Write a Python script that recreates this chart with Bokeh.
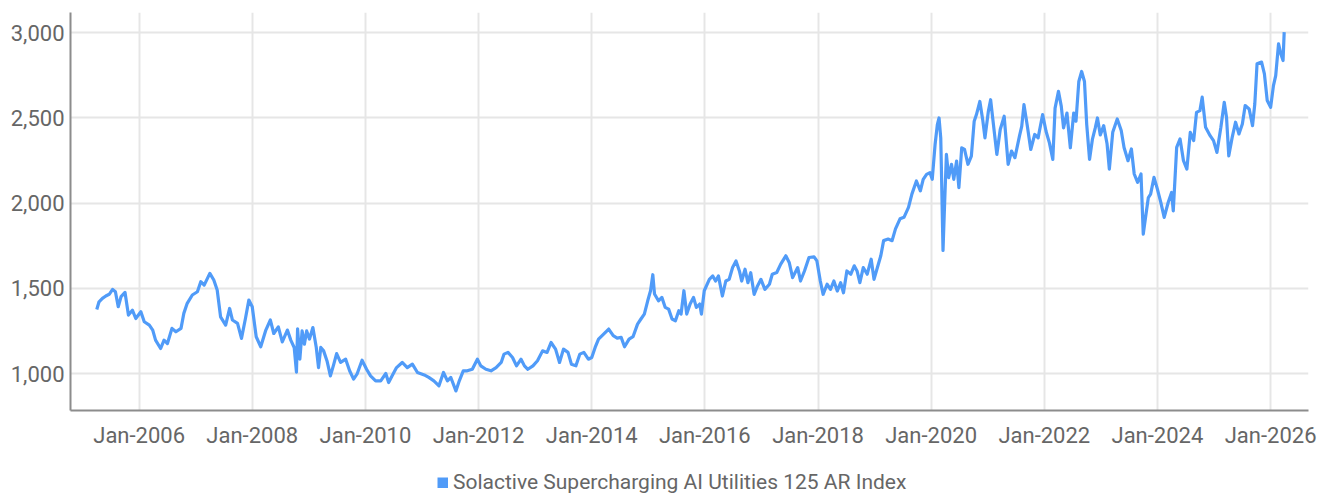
from datetime import datetime
from bokeh.plotting import figure
from bokeh.layouts import column
from bokeh.models import (FixedTicker, DatetimeTickFormatter, NumeralTickFormatter,
                          Legend, LegendItem, Range1d, ColumnDataSource)
from bokeh.embed import file_html
from bokeh.resources import INLINE

series_name = "Solactive Supercharging AI Utilities 125 AR Index"

# decimal-year dates and index levels
dates = [
    2005.25, 2005.29, 2005.35, 2005.41, 2005.47, 2005.53, 2005.58, 2005.63, 2005.68, 2005.75,
    2005.81, 2005.88, 2005.94, 2006.03, 2006.09, 2006.18, 2006.24, 2006.29, 2006.38, 2006.44,
    2006.50, 2006.58, 2006.65, 2006.74, 2006.79, 2006.85, 2006.94, 2007.03, 2007.09, 2007.15,
    2007.25, 2007.32, 2007.38, 2007.44, 2007.53, 2007.60, 2007.65, 2007.74, 2007.81, 2007.88,
    2007.94, 2008.00, 2008.07, 2008.15, 2008.24, 2008.32, 2008.38, 2008.46, 2008.53, 2008.62,
    2008.68, 2008.74, 2008.78, 2008.80, 2008.84, 2008.88, 2008.92, 2008.96, 2009.01, 2009.07,
    2009.13, 2009.17, 2009.21, 2009.26, 2009.32, 2009.38, 2009.44, 2009.49, 2009.56, 2009.65,
    2009.72, 2009.79, 2009.85, 2009.94, 2010.02, 2010.09, 2010.18, 2010.27, 2010.36, 2010.41,
    2010.47, 2010.55, 2010.65, 2010.74, 2010.83, 2010.92, 2011.04, 2011.12, 2011.21, 2011.30,
    2011.38, 2011.45, 2011.51, 2011.60, 2011.66, 2011.73, 2011.80, 2011.89, 2011.98, 2012.04,
    2012.13, 2012.22, 2012.31, 2012.40, 2012.45, 2012.52, 2012.60, 2012.67, 2012.75, 2012.81,
    2012.87, 2012.96, 2013.04, 2013.13, 2013.21, 2013.28, 2013.36, 2013.43, 2013.50, 2013.58,
    2013.64, 2013.72, 2013.79, 2013.86, 2013.94, 2014.00, 2014.06, 2014.12, 2014.21, 2014.30,
    2014.38, 2014.45, 2014.52, 2014.58, 2014.66, 2014.73, 2014.81, 2014.87, 2014.93, 2014.99,
    2015.04, 2015.08, 2015.11, 2015.18, 2015.24, 2015.30, 2015.36, 2015.42, 2015.48, 2015.54,
    2015.58, 2015.63, 2015.68, 2015.74, 2015.80, 2015.85, 2015.91, 2015.94, 2015.99, 2016.08,
    2016.14, 2016.19, 2016.24, 2016.31, 2016.37, 2016.43, 2016.49, 2016.55, 2016.61, 2016.65,
    2016.71, 2016.76, 2016.81, 2016.87, 2016.93, 2016.99, 2017.06, 2017.14, 2017.19, 2017.27,
    2017.34, 2017.43, 2017.49, 2017.55, 2017.64, 2017.69, 2017.76, 2017.84, 2017.93, 2017.98,
    2018.04, 2018.09, 2018.16, 2018.22, 2018.28, 2018.34, 2018.40, 2018.45, 2018.51, 2018.58,
    2018.64, 2018.69, 2018.74, 2018.80, 2018.87, 2018.94, 2018.99, 2019.05, 2019.11, 2019.16,
    2019.24, 2019.31, 2019.37, 2019.45, 2019.52, 2019.60, 2019.66, 2019.74, 2019.81, 2019.86,
    2019.92, 2019.98, 2020.02, 2020.07, 2020.11, 2020.14, 2020.17, 2020.18, 2020.21, 2020.24,
    2020.27, 2020.31, 2020.36, 2020.40, 2020.45, 2020.49, 2020.54, 2020.59, 2020.65, 2020.71,
    2020.76, 2020.80, 2020.86, 2020.91, 2020.95, 2021.01, 2021.05, 2021.10, 2021.16, 2021.22,
    2021.29, 2021.36, 2021.42, 2021.48, 2021.56, 2021.60, 2021.64, 2021.70, 2021.76, 2021.83,
    2021.89, 2021.97, 2022.03, 2022.09, 2022.15, 2022.19, 2022.25, 2022.30, 2022.34, 2022.40,
    2022.46, 2022.52, 2022.56, 2022.61, 2022.66, 2022.71, 2022.75, 2022.80, 2022.85, 2022.90,
    2022.94, 2022.99, 2023.05, 2023.11, 2023.15, 2023.21, 2023.29, 2023.36, 2023.41, 2023.48,
    2023.54, 2023.59, 2023.65, 2023.71, 2023.75, 2023.79, 2023.84, 2023.88, 2023.94, 2024.00,
    2024.06, 2024.12, 2024.19, 2024.25, 2024.28, 2024.34, 2024.40, 2024.46, 2024.52, 2024.58,
    2024.64, 2024.69, 2024.75, 2024.79, 2024.85, 2024.93, 2024.99, 2025.05, 2025.12, 2025.18,
    2025.22, 2025.26, 2025.32, 2025.38, 2025.44, 2025.50, 2025.55, 2025.62, 2025.68, 2025.72,
    2025.76, 2025.84, 2025.89, 2025.94, 2026.00, 2026.05, 2026.09, 2026.14, 2026.18, 2026.22,
    2026.24,
]
values = [
    1376, 1421, 1441, 1455, 1465, 1494, 1480, 1392, 1451, 1476,
    1343, 1372, 1323, 1363, 1304, 1284, 1255, 1196, 1147, 1196,
    1176, 1265, 1245, 1265, 1353, 1412, 1461, 1480, 1539, 1519,
    1588, 1549, 1490, 1333, 1284, 1382, 1314, 1294, 1206, 1323,
    1431, 1392, 1216, 1157, 1255, 1314, 1235, 1274, 1186, 1255,
    1196, 1153, 1008, 1262, 1084, 1250, 1172, 1250, 1202, 1270,
    1153, 1035, 1153, 1133, 1074, 986, 1055, 1117, 1065, 1084,
    1016, 967, 996, 1078, 1025, 986, 957, 957, 1000, 947,
    986, 1035, 1065, 1035, 1055, 1006, 992, 977, 957, 928,
    1006, 957, 977, 898, 957, 1016, 1016, 1025, 1084, 1045,
    1025, 1016, 1035, 1065, 1114, 1124, 1094, 1045, 1084, 1045,
    1025, 1045, 1075, 1133, 1124, 1182, 1143, 1065, 1143, 1124,
    1055, 1045, 1114, 1124, 1084, 1094, 1153, 1202, 1231, 1261,
    1222, 1208, 1212, 1157, 1202, 1216, 1290, 1320, 1349, 1427,
    1486, 1580, 1467, 1427, 1447, 1388, 1378, 1320, 1310, 1369,
    1349, 1486, 1349, 1408, 1447, 1388, 1408, 1349, 1486, 1553,
    1573, 1543, 1573, 1455, 1543, 1553, 1622, 1661, 1602, 1543,
    1612, 1533, 1592, 1465, 1514, 1553, 1494, 1524, 1583, 1593,
    1642, 1691, 1652, 1563, 1622, 1543, 1602, 1681, 1685, 1661,
    1543, 1465, 1524, 1494, 1543, 1484, 1533, 1474, 1602, 1583,
    1632, 1602, 1533, 1622, 1583, 1671, 1553, 1622, 1691, 1780,
    1789, 1780, 1849, 1908, 1917, 1975, 2053, 2130, 2072, 2140,
    2169, 2179, 2140, 2344, 2461, 2500, 2383, 2228, 1722, 2014,
    2286, 2150, 2228, 2140, 2247, 2091, 2325, 2315, 2228, 2276,
    2481, 2520, 2597, 2490, 2383, 2539, 2607, 2461, 2286, 2432,
    2510, 2228, 2306, 2267, 2393, 2451, 2578, 2451, 2315, 2403,
    2383, 2520, 2422, 2354, 2257, 2558, 2656, 2568, 2442, 2529,
    2325, 2529, 2481, 2714, 2773, 2714, 2461, 2257, 2374, 2440,
    2500, 2400, 2455, 2347, 2200, 2416, 2494, 2426, 2327, 2249,
    2318, 2171, 2122, 2171, 1818, 1916, 2033, 2053, 2151, 2082,
    2004, 1916, 2004, 2063, 1955, 2327, 2377, 2249, 2200, 2416,
    2367, 2533, 2543, 2622, 2445, 2396, 2367, 2298, 2445, 2592,
    2504, 2278, 2386, 2475, 2406, 2465, 2573, 2553, 2455, 2582,
    2818, 2828, 2759, 2602, 2563, 2690, 2749, 2935, 2877, 2837,
    3004,
]

tick_years = [2006, 2008, 2010, 2012, 2014, 2016, 2018, 2020, 2022, 2024, 2026]
y_ticks = [1000, 1500, 2000, 2500, 3000]


def to_dt(y):
    yr = int(y)
    start = datetime(yr, 1, 1)
    end = datetime(yr + 1, 1, 1)
    return start + (end - start) * (y - yr)


def to_ms(d):
    return (d - datetime(1970, 1, 1)).total_seconds() * 1000.0


line_color = "#509bf8"
text_font = "Roboto"
text_color = "#666666"

src = ColumnDataSource(dict(x=[to_dt(d) for d in dates], y=values))

p = figure(width=1326, height=452, x_axis_type="datetime",
           output_backend="svg", toolbar_location=None,
           x_range=Range1d(to_dt(2004.786), to_dt(2026.67)),
           y_range=Range1d(783, 3119),
           min_border_left=70, min_border_right=18, min_border_top=12,
           min_border_bottom=42)
p.outline_line_color = None
p.background_fill_color = "white"

p.line("x", "y", source=src, line_color=line_color, line_width=3.2,
       line_join="round")

p.xaxis.ticker = FixedTicker(ticks=[to_ms(datetime(y, 1, 1)) for y in tick_years])
fmt = "%b-%Y"
p.xaxis.formatter = DatetimeTickFormatter(
    milliseconds=fmt, seconds=fmt, minsec=fmt, minutes=fmt, hourmin=fmt,
    hours=fmt, days=fmt, months=fmt, years=fmt)
p.yaxis.ticker = FixedTicker(ticks=y_ticks)
p.yaxis.formatter = NumeralTickFormatter(format="0,0")

for ax in (p.xaxis, p.yaxis):
    ax.axis_line_color = "#8c8c8c"
    ax.axis_line_width = 2
    ax.major_tick_line_color = None
    ax.minor_tick_line_color = None
    ax.major_tick_out = 0
    ax.major_tick_in = 0
    ax.minor_tick_out = 0
    ax.major_label_text_font = text_font
    ax.major_label_text_font_size = "22px"
    ax.major_label_text_color = text_color
p.xaxis.major_label_standoff = 12
p.yaxis.major_label_standoff = 6

p.xgrid.grid_line_color = "#e6e6e6"
p.xgrid.grid_line_width = 2
p.ygrid.grid_line_color = "#e6e6e6"
p.ygrid.grid_line_width = 2

# legend strip below the chart; its swatch renderer uses the series itself,
# which lies outside this strip's ranges so only the legend key shows
lg = figure(width=1326, height=43, output_backend="svg", toolbar_location=None,
            x_range=Range1d(0, 1), y_range=Range1d(0, 1),
            min_border_left=0, min_border_right=0, min_border_top=0,
            min_border_bottom=0)
lg.axis.visible = False
lg.grid.visible = False
lg.outline_line_color = None
swatch = lg.line("x", "y", source=src, line_color=line_color, line_width=11,
                 line_cap="butt")
legend = Legend(items=[LegendItem(label=series_name, renderers=[swatch])],
                location=(367, 1), orientation="horizontal",
                border_line_color=None, background_fill_alpha=0,
                padding=0, margin=0, spacing=0,
                glyph_width=11, glyph_height=11, label_standoff=5,
                label_text_font=text_font, label_text_font_size="21px",
                label_text_color=text_color)
lg.add_layout(legend, "center")

layout = column(p, lg, spacing=0)
open("out.html", "w").write(file_html(layout, INLINE))
